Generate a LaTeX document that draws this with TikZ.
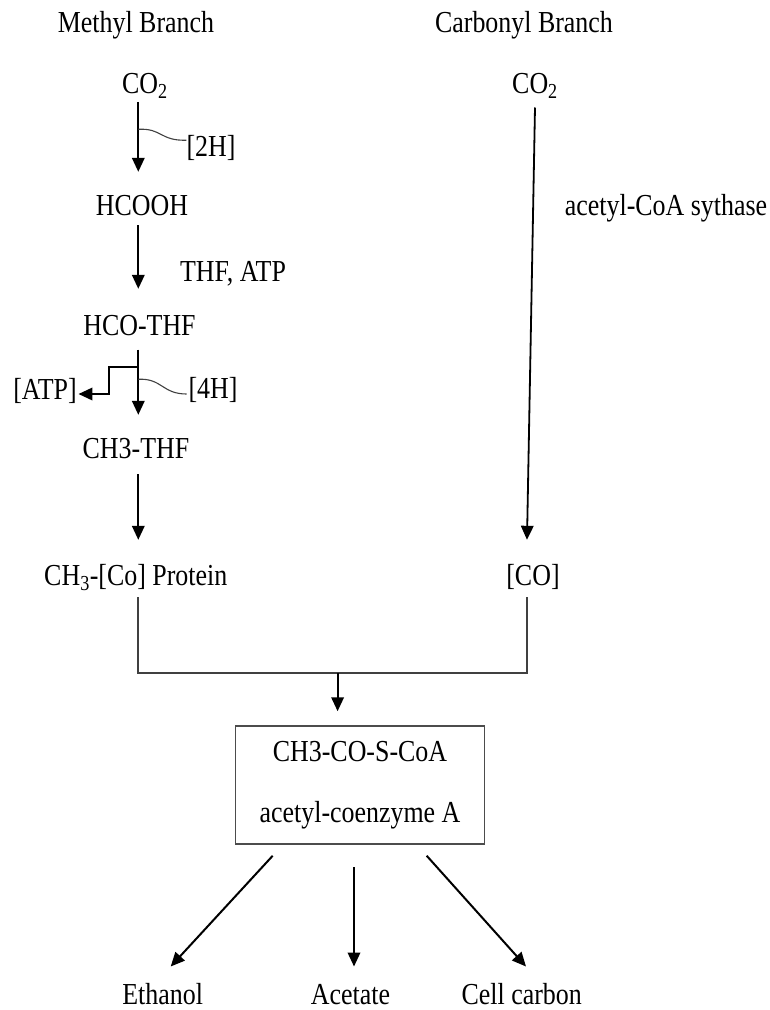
\documentclass[tikz,border=0pt]{standalone}
\usepackage{fontspec}
\setmainfont{Liberation Serif}[FakeStretch=0.85]
\usetikzlibrary{arrows.meta,calc}
\begin{document}
\begin{tikzpicture}[x=1pt,y=-1pt,
  lbl/.style={anchor=base,inner sep=0pt,text height=21pt,text depth=6pt,font=\fontsize{30.5}{36}\selectfont},
  arr/.style={line width=2pt,-{Triangle[length=14pt,width=12.5pt]}},
  merge/.style={line width=1.5pt,draw=black!75},
  wavy/.style={line width=1.1pt,draw=black!75},
  boxed/.style={draw=black!70,line width=1.5pt,minimum width=249pt,minimum height=118pt,align=center,inner sep=0pt,font=\fontsize{30.5}{61}\selectfont}]
\useasboundingbox (0,0) rectangle (770,1010);
\fill[white] (0,0) rectangle (770,1010);

% titles
\node[lbl] (mb) at (136,32.3) {Methyl Branch};
\node[lbl] (cb) at (524,32) {Carbonyl Branch};

% methyl branch
\node[lbl] (co2l) at (145,93.3) {CO\textsubscript{2}};
\node[lbl] (hcooh) at (142,215) {HCOOH};
\node[lbl] (hcothf) at (139.5,335) {HCO-THF};
\node[lbl] (ch3thf) at (136,458) {CH3-THF};
\node[lbl] (ch3co) at (135.8,585) {CH\textsubscript{3}-[Co] Protein};
\node[lbl] (h2) at (211,156.7) {[2H]};
\node[lbl] (thfatp) at (233,281) {THF, ATP};
\node[lbl] (h4) at (213,398.3) {[4H]};
\node[lbl] (atp) at (45,399) {[ATP]};

% carbonyl branch
\node[lbl] (co2r) at (535,93.3) {CO\textsubscript{2}};
\node[lbl] (acs) at (666,215) {acetyl-CoA sythase};
\node[lbl] (co) at (533,585) {[CO]};

% acetyl-CoA box
\node[boxed] (acoa) at (360,785) {CH3-CO-S-CoA\\acetyl-coenzyme A};

% products
\node[lbl,text depth=0pt] (eth) at (162.7,1004.5) {Ethanol};
\node[lbl,text depth=0pt] (ace) at (350.5,1004.5) {Acetate};
\node[lbl,text depth=0pt] (cell) at (521.7,1004.5) {Cell carbon};

% main methyl arrows
\draw[arr] ($(co2l.south)+(-6.7,2.4)$) -- ($(hcooh.north)+(-3.7,-22)$);
\draw[arr] ($(hcooh.south)+(-3.7,4)$) -- ($(hcothf.north)+(-1.2,-25)$);
\draw[arr] ($(hcothf.south)+(-1.2,8.3)$) -- ($(ch3thf.north)+(2.3,-22)$);
\draw[arr] ($(ch3thf.south)+(2.3,10)$) -- ($(ch3co.north)+(2.5,-24)$);

% side inputs / outputs
\coordinate (s2) at (138.3,129.3);
\draw[wavy] (s2) .. controls (162,128) and (160,141) .. ($(h2.west)+(0,-9)$);
\coordinate (s4) at (138.3,379.3);
\draw[wavy] (s4) .. controls (162,378) and (162,394) .. ($(h4.west)+(-1.7,3.2)$);
\coordinate (sa) at (138.3,366.7);
\draw[arr] (sa) -- ++(-29,0) |- ($(atp.east)+(1.6,2.5)$);

% carbonyl arrow
\draw[arr,line width=1.8pt] ($(co2r.south)+(0,8)$) -- ($(co.north)+(-6,-24)$);

% merge
\draw[merge] ($(ch3co.south)+(2.2,6)$) |- ($(co.south)+(-6,82)$) -- ($(co.south)+(-6,6)$);
\coordinate (mj) at (337.6,673);
\draw[arr] (mj) -- ($(acoa.north -| mj)+(0,-14)$);

% products arrows
\draw[arr] ($(acoa.south)+(-87.3,11)$) -- ($(eth.north)+(8,-16.8)$);
\draw[arr] ($(acoa.south)+(-6,22.7)$) -- ($(ace.north)+(3.5,-16.8)$);
\draw[arr] ($(acoa.south)+(66.7,11)$) -- ($(cell.north)+(4.3,-16.8)$);
\end{tikzpicture}
\end{document}
